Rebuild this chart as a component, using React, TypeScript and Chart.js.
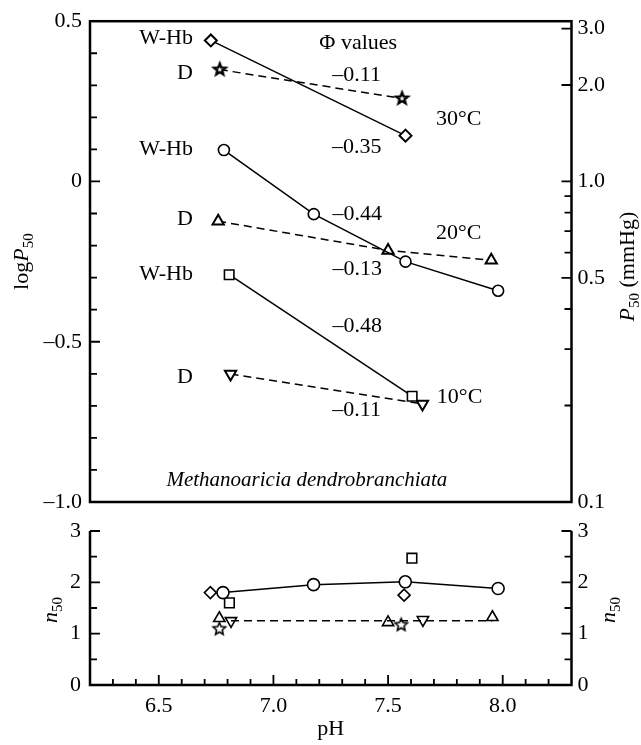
import React, { useEffect, useRef } from 'react';
import { Chart, registerables } from 'chart.js';
Chart.register(...registerables);

const W = 641;
const H = 745;
const FONT = "'Liberation Serif', 'Times New Roman', serif";

// ---- top panel: log P50 vs pH ----
const pH30W = [6.727, 7.576];
const logP30W = [0.44, 0.143];
const pH30D = [6.766, 7.561];
const logP30D = [0.349, 0.259];
const pH20W = [6.784, 7.176, 7.576, 7.98];
const logP20W = [0.098, -0.102, -0.25, -0.341];
const pH20D = [6.759, 7.5, 7.95];
const logP20D = [-0.124, -0.215, -0.246];
const pH10W = [6.807, 7.605];
const logP10W = [-0.291, -0.67];
const pH10D = [6.813, 7.65];
const logP10D = [-0.601, -0.694];

// ---- bottom panel: n50 vs pH ----
const nDiamondPH = [6.725, 7.57];
const nDiamond = [1.8, 1.75];
const nCirclePH = [6.78, 7.175, 7.575, 7.98];
const nCircle = [1.8, 1.955, 2.01, 1.88];
const nSquarePH = [6.808, 7.604];
const nSquare = [1.6, 2.47];
const nTriUpPH = [6.764, 7.5, 7.955];
const nTriUp = [1.3, 1.22, 1.32];
const nStarPH = [6.764, 7.557];
const nStar = [1.09, 1.17];
const nTriDownPH = [6.815, 7.652];
const nTriDown = [1.25, 1.27];
const nMeanDPH = [6.815, 7.955];
const nMeanD = [1.25, 1.25];

// ---- axes ----
const xMin = 6.2;
const xMax = 8.3;
const xTickVals = [6.5, 7.0, 7.5, 8.0];
const logMin = -1.0;
const logMax = 0.5;
const p50TickVals = [0.1, 0.5, 1, 2, 3];
const p50MinorVals = [0.2, 0.3, 0.4, 0.6, 0.7, 0.8, 0.9];
const nMin = 0;
const nMax = 3;

// ---- annotations (text, pH, logP50) ----
const noteText = ['W-Hb', 'D', 'W-Hb', 'D', 'W-Hb', 'D', 'Φ values', '–0.11', '30°C', '–0.35', '–0.44', '20°C', '–0.13', '–0.48', '10°C', '–0.11'];
const notePH = [6.649, 6.649, 6.649, 6.649, 6.649, 6.649, 7.37, 7.363, 7.808, 7.363, 7.366, 7.808, 7.366, 7.366, 7.812, 7.363];
const noteLogP = [0.447, 0.339, 0.1, -0.117, -0.29, -0.612, 0.432, 0.33, 0.193, 0.106, -0.101, -0.163, -0.275, -0.451, -0.674, -0.715];
const speciesName = 'Methanoaricia dendrobranchiata';
const speciesPH = 7.146;
const speciesLogP = -0.932;

const pts = (xs: number[], ys: number[]) => xs.map((x, i) => ({ x, y: ys[i] }));

function makeStar(outer: number, inner: number, lw: number) {
  const size = Math.ceil(outer * 2 + lw * 2 + 2);
  const c = document.createElement('canvas');
  c.width = size;
  c.height = size;
  const ctx = c.getContext('2d')!;
  const cx = size / 2, cy = size / 2;
  ctx.beginPath();
  for (let i = 0; i < 10; i++) {
    const r = i % 2 === 0 ? outer : inner;
    const a = -Math.PI / 2 + (i * Math.PI) / 5;
    const px = cx + r * Math.cos(a), py = cy + r * Math.sin(a);
    if (i === 0) ctx.moveTo(px, py); else ctx.lineTo(px, py);
  }
  ctx.closePath();
  ctx.fillStyle = '#fff';
  ctx.fill();
  ctx.lineWidth = lw;
  ctx.strokeStyle = '#000';
  ctx.lineJoin = 'miter';
  ctx.stroke();
  return c;
}

type Part = { text: string; font: string; dy?: number };
function drawRotated(ctx: CanvasRenderingContext2D, cx: number, cy: number, parts: Part[]) {
  ctx.save();
  ctx.translate(cx, cy);
  ctx.rotate(-Math.PI / 2);
  ctx.textAlign = 'left';
  ctx.textBaseline = 'alphabetic';
  ctx.fillStyle = '#000';
  let total = 0;
  for (const p of parts) { ctx.font = p.font; total += ctx.measureText(p.text).width; }
  let x = -total / 2;
  for (const p of parts) {
    ctx.font = p.font;
    ctx.fillText(p.text, x, p.dy || 0);
    x += ctx.measureText(p.text).width;
  }
  ctx.restore();
}

const F22 = `22px ${FONT}`;
const F22I = `italic 22px ${FONT}`;
const F21I = `italic 21px ${FONT}`;
const F15 = `15px ${FONT}`;

const fmtLog = (v: number) => (Math.abs(v) < 1e-9 ? '0' : (v < 0 ? '–' : '') + Math.abs(v).toFixed(1));

const topDecor = {
  id: 'topDecor',
  afterDatasetsDraw(chart: any) {
    const { ctx, scales } = chart;
    ctx.save();
    ctx.fillStyle = '#000';
    ctx.textBaseline = 'middle';
    ctx.font = F22;
    noteText.forEach((t, i) => {
      ctx.textAlign = i < 6 ? 'right' : 'center';
      ctx.fillText(t, scales.x.getPixelForValue(notePH[i]), scales.y.getPixelForValue(noteLogP[i]));
    });
    ctx.font = F21I;
    ctx.textAlign = 'center';
    ctx.fillText(speciesName, scales.x.getPixelForValue(speciesPH), scales.y.getPixelForValue(speciesLogP));
    ctx.restore();
  },
  afterDraw(chart: any) {
    const { ctx, chartArea, scales } = chart;
    const { left, right, top, bottom } = chartArea;
    ctx.save();
    ctx.strokeStyle = '#000';
    ctx.lineWidth = 2.5;
    ctx.strokeRect(left, top, right - left, bottom - top);
    ctx.lineWidth = 1.8;
    ctx.beginPath();
    for (let i = 0; i <= 15; i++) {
      const v = logMin + i * 0.1;
      const y = scales.y.getPixelForValue(v);
      const len = i % 5 === 0 ? 10 : 7;
      ctx.moveTo(left, y);
      ctx.lineTo(left + len, y);
    }
    for (const v of p50TickVals) {
      const y = scales.yR.getPixelForValue(v);
      ctx.moveTo(right, y);
      ctx.lineTo(right - 10, y);
    }
    for (const v of p50MinorVals) {
      const y = scales.yR.getPixelForValue(v);
      ctx.moveTo(right, y);
      ctx.lineTo(right - 7, y);
    }
    ctx.stroke();
    const cy = (top + bottom) / 2;
    drawRotated(ctx, 28, cy, [
      { text: 'log', font: F22 },
      { text: 'P', font: F22I },
      { text: '50', font: F15, dy: 5 },
    ]);
    drawRotated(ctx, 634, cy + 5, [
      { text: 'P', font: F22I },
      { text: '50', font: F15, dy: 5 },
      { text: ' (mmHg)', font: F22 },
    ]);
    ctx.restore();
  },
};

const bottomDecor = {
  id: 'bottomDecor',
  afterDraw(chart: any) {
    const { ctx, chartArea, scales } = chart;
    const { left, right, top, bottom } = chartArea;
    ctx.save();
    ctx.strokeStyle = '#000';
    ctx.lineWidth = 2.5;
    ctx.beginPath();
    ctx.moveTo(left, top);
    ctx.lineTo(left, bottom);
    ctx.lineTo(right, bottom);
    ctx.lineTo(right, top);
    ctx.stroke();
    ctx.lineWidth = 1.8;
    ctx.beginPath();
    for (let i = 0; i <= 6; i++) {
      const v = nMin + i * 0.5;
      const y = scales.y.getPixelForValue(v);
      const len = i % 2 === 0 ? 10 : 7;
      ctx.moveTo(left, y);
      ctx.lineTo(left + len, y);
      ctx.moveTo(right, y);
      ctx.lineTo(right - len, y);
    }
    for (let i = 1; i < 21; i++) {
      const v = xMin + i * 0.1;
      const x = scales.x.getPixelForValue(v);
      const major = xTickVals.some((t) => Math.abs(t - v) < 1e-6);
      ctx.moveTo(x, bottom);
      ctx.lineTo(x, bottom - (major ? 10 : 6));
    }
    ctx.stroke();
    drawRotated(ctx, 57, 610, [
      { text: 'n', font: F22I },
      { text: '50', font: F15, dy: 5 },
    ]);
    drawRotated(ctx, 615, 610, [
      { text: 'n', font: F22I },
      { text: '50', font: F15, dy: 5 },
    ]);
    ctx.fillStyle = '#000';
    ctx.font = F22;
    ctx.textAlign = 'center';
    ctx.textBaseline = 'alphabetic';
    ctx.fillText('pH', (left + right) / 2, 735);
    ctx.restore();
  },
};

const tickFont = { family: FONT, size: 22 };

export default function App() {
  const c1 = useRef<HTMLCanvasElement>(null);
  const c2 = useRef<HTMLCanvasElement>(null);

  useEffect(() => {
    const starTop = makeStar(6, 2.6, 2.4);
    const starBot = makeStar(6.5, 3, 1.6);
    const base = {
      borderColor: '#000',
      pointBorderColor: '#000',
      pointBackgroundColor: '#fff',
      pointBorderWidth: 1.6,
      borderWidth: 1.5,
      tension: 0,
      fill: false,
    };
    const dash = [8, 5];

    const chart1 = new Chart(c1.current!, {
      type: 'line',
      data: {
        datasets: [
          { ...base, data: pts(pH30W, logP30W), pointStyle: 'rectRot', pointRadius: 6, pointBorderWidth: 2 },
          { ...base, data: pts(pH30D, logP30D), borderDash: dash, pointStyle: starTop as any, pointRadius: 7 },
          { ...base, data: pts(pH20W, logP20W), pointStyle: 'circle', pointRadius: 5.5 },
          { ...base, data: pts(pH20D, logP20D), borderDash: dash, pointStyle: 'triangle', pointRadius: 6.5, pointBorderWidth: 2 },
          { ...base, data: pts(pH10W, logP10W), pointStyle: 'rect', pointRadius: 6.7 },
          { ...base, data: pts(pH10D, logP10D), borderDash: dash, pointStyle: 'triangle', pointRotation: 180, pointRadius: 6.5, pointBorderWidth: 2 },
        ] as any,
      },
      options: {
        responsive: false,
        animation: false,
        layout: { padding: { top: 18, bottom: H - 502, left: 0, right: 0 } },
        plugins: { legend: { display: false }, tooltip: { enabled: false } },
        scales: {
          x: { type: 'linear', min: xMin, max: xMax, display: false },
          y: {
            type: 'linear',
            position: 'left',
            min: logMin,
            max: logMax,
            grid: { display: false, drawTicks: false },
            border: { display: false },
            ticks: { stepSize: 0.5, padding: 8, color: '#000', font: tickFont, callback: (v: any) => fmtLog(Number(v)) },
            afterFit: (s: any) => { s.width = 90; },
          },
          yR: {
            type: 'logarithmic',
            position: 'right',
            min: 0.1,
            max: Math.pow(10, logMax),
            grid: { display: false, drawTicks: false },
            border: { display: false },
            afterBuildTicks: (s: any) => { s.ticks = p50TickVals.map((v) => ({ value: v })); },
            ticks: {
              padding: 6,
              color: '#000',
              font: tickFont,
              autoSkip: false,
              callback: (v: any) => (Number(v) >= 1 ? Number(v).toFixed(1) : String(v)),
            },
            afterFit: (s: any) => { s.width = W - 571.5; },
          },
        } as any,
      },
      plugins: [topDecor],
    });

    const chart2 = new Chart(c2.current!, {
      type: 'line',
      data: {
        datasets: [
          { ...base, data: pts(nCirclePH, nCircle), pointStyle: 'circle', pointRadius: 6 },
          { ...base, data: pts(nMeanDPH, nMeanD), borderDash: dash, pointRadius: 0 },
          { ...base, data: pts(nDiamondPH, nDiamond), showLine: false, pointStyle: 'rectRot', pointRadius: 6 },
          { ...base, data: pts(nSquarePH, nSquare), showLine: false, pointStyle: 'rect', pointRadius: 6.8 },
          { ...base, data: pts(nTriUpPH, nTriUp), showLine: false, pointStyle: 'triangle', pointRadius: 6.5 },
          { ...base, data: pts(nTriDownPH, nTriDown), showLine: false, pointStyle: 'triangle', pointRotation: 180, pointRadius: 6.5 },
          { ...base, data: pts(nStarPH, nStar), showLine: false, pointStyle: starBot as any, pointRadius: 7 },
        ] as any,
      },
      options: {
        responsive: false,
        animation: false,
        layout: { padding: { top: 531, bottom: 0, left: 0, right: 0 } },
        plugins: { legend: { display: false }, tooltip: { enabled: false } },
        scales: {
          x: {
            type: 'linear',
            min: xMin,
            max: xMax,
            grid: { display: false, drawTicks: false },
            border: { display: false },
            afterBuildTicks: (s: any) => { s.ticks = xTickVals.map((v) => ({ value: v })); },
            ticks: { padding: 8, color: '#000', font: tickFont, autoSkip: false, maxRotation: 0, callback: (v: any) => Number(v).toFixed(1) },
            afterFit: (s: any) => { s.height = H - 685; },
          },
          y: {
            type: 'linear',
            position: 'left',
            min: nMin,
            max: nMax,
            grid: { display: false, drawTicks: false },
            border: { display: false },
            ticks: { stepSize: 1, padding: 9, color: '#000', font: tickFont, callback: (v: any) => String(v) },
            afterFit: (s: any) => { s.width = 90; },
          },
          yR: {
            type: 'linear',
            position: 'right',
            min: nMin,
            max: nMax,
            grid: { display: false, drawTicks: false },
            border: { display: false },
            ticks: { stepSize: 1, padding: 6, color: '#000', font: tickFont, callback: (v: any) => String(v) },
            afterFit: (s: any) => { s.width = W - 571.5; },
          },
        } as any,
      },
      plugins: [bottomDecor],
    });

    return () => {
      chart1.destroy();
      chart2.destroy();
    };
  }, []);

  return (
    <div style={{ position: 'absolute', left: 0, top: 0, width: W, height: H, background: '#fff' }}>
      <canvas ref={c1} width={W} height={H} style={{ position: 'absolute', left: 0, top: 0 }} />
      <canvas ref={c2} width={W} height={H} style={{ position: 'absolute', left: 0, top: 0 }} />
    </div>
  );
}
